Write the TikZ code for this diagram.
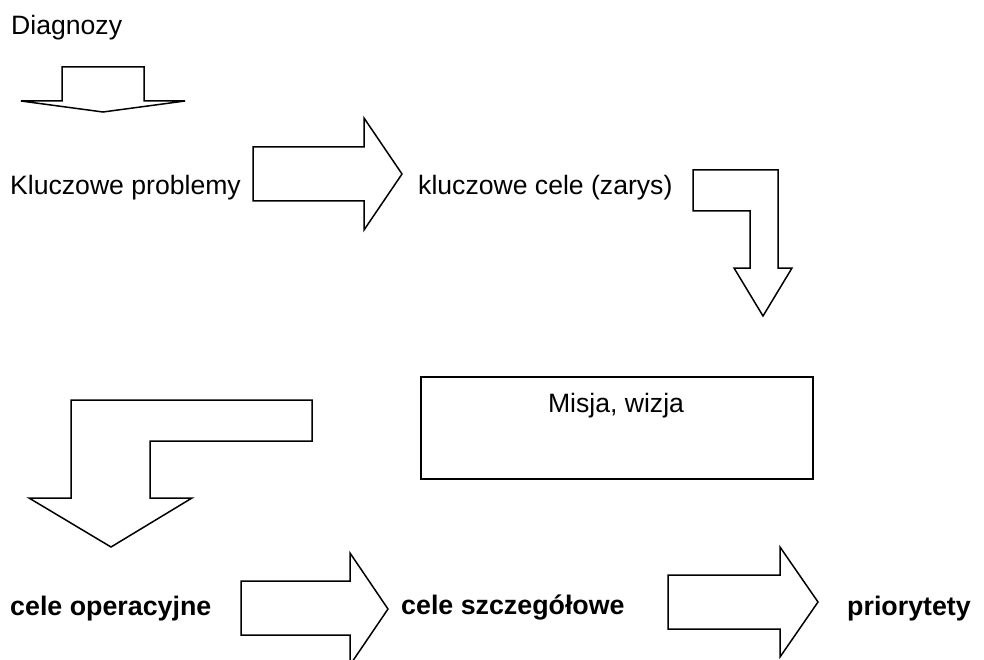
\documentclass[tikz,border=0pt]{standalone}
\usepackage{fontspec}
\setmainfont{Liberation Sans}
\begin{document}
\begin{tikzpicture}[x=1pt,y=-1pt,
  blockarrow/.style={draw=black,line width=1.5pt,fill=white,line join=miter},
  lbl/.style={inner sep=0pt,anchor=base west,font=\fontsize{26.6}{30}\selectfont},
  blbl/.style={lbl,font=\fontsize{26.8}{30}\selectfont\bfseries}]
\useasboundingbox[fill=white] (0,0) rectangle (984,660);
% block arrows
\draw[blockarrow] (62,67) -- (144,67) -- (144,101) -- (185,101) -- (103,112) -- (21,101) -- (62,101) -- cycle;
\draw[blockarrow] (253,147) -- (364,147) -- (364,118) -- (402,174) -- (364,230) -- (364,201) -- (253,201) -- cycle;
\draw[blockarrow] (693,170) -- (778,170) -- (778,268) -- (792,268) -- (763,316) -- (734,268) -- (750,268) -- (750,211) -- (693,211) -- cycle;
\draw[blockarrow] (312,400) -- (312,441) -- (150,441) -- (150,498) -- (192,498) -- (111,547) -- (29,498) -- (71,498) -- (71,400) -- cycle;
\draw[blockarrow] (241,581) -- (350,581) -- (350,553) -- (388,609) -- (350,665) -- (350,635) -- (241,635) -- cycle;
\draw[blockarrow] (668,575) -- (780,575) -- (780,547) -- (818,602) -- (780,657) -- (780,629) -- (668,629) -- cycle;
% box
\node[draw=black,line width=1.5pt,minimum width=392pt,minimum height=102pt,anchor=north west,inner sep=0pt] (box) at (420,376) {};
% texts
\node[lbl] (diag) at (11,35) {Diagnozy};
\node[lbl] (kprob) at (10,195) {Kluczowe problemy};
\node[lbl] (kcele) at (418,195) {kluczowe cele (zarys)};
\node[lbl,anchor=base] (misja) at (616,412) {Misja, wizja};
\node[blbl] (cop) at (10,615) {cele operacyjne};
\node[blbl] (csz) at (401,614) {cele szczegółowe};
\node[blbl] (prio) at (847,615) {priorytety};
\end{tikzpicture}
\end{document}
